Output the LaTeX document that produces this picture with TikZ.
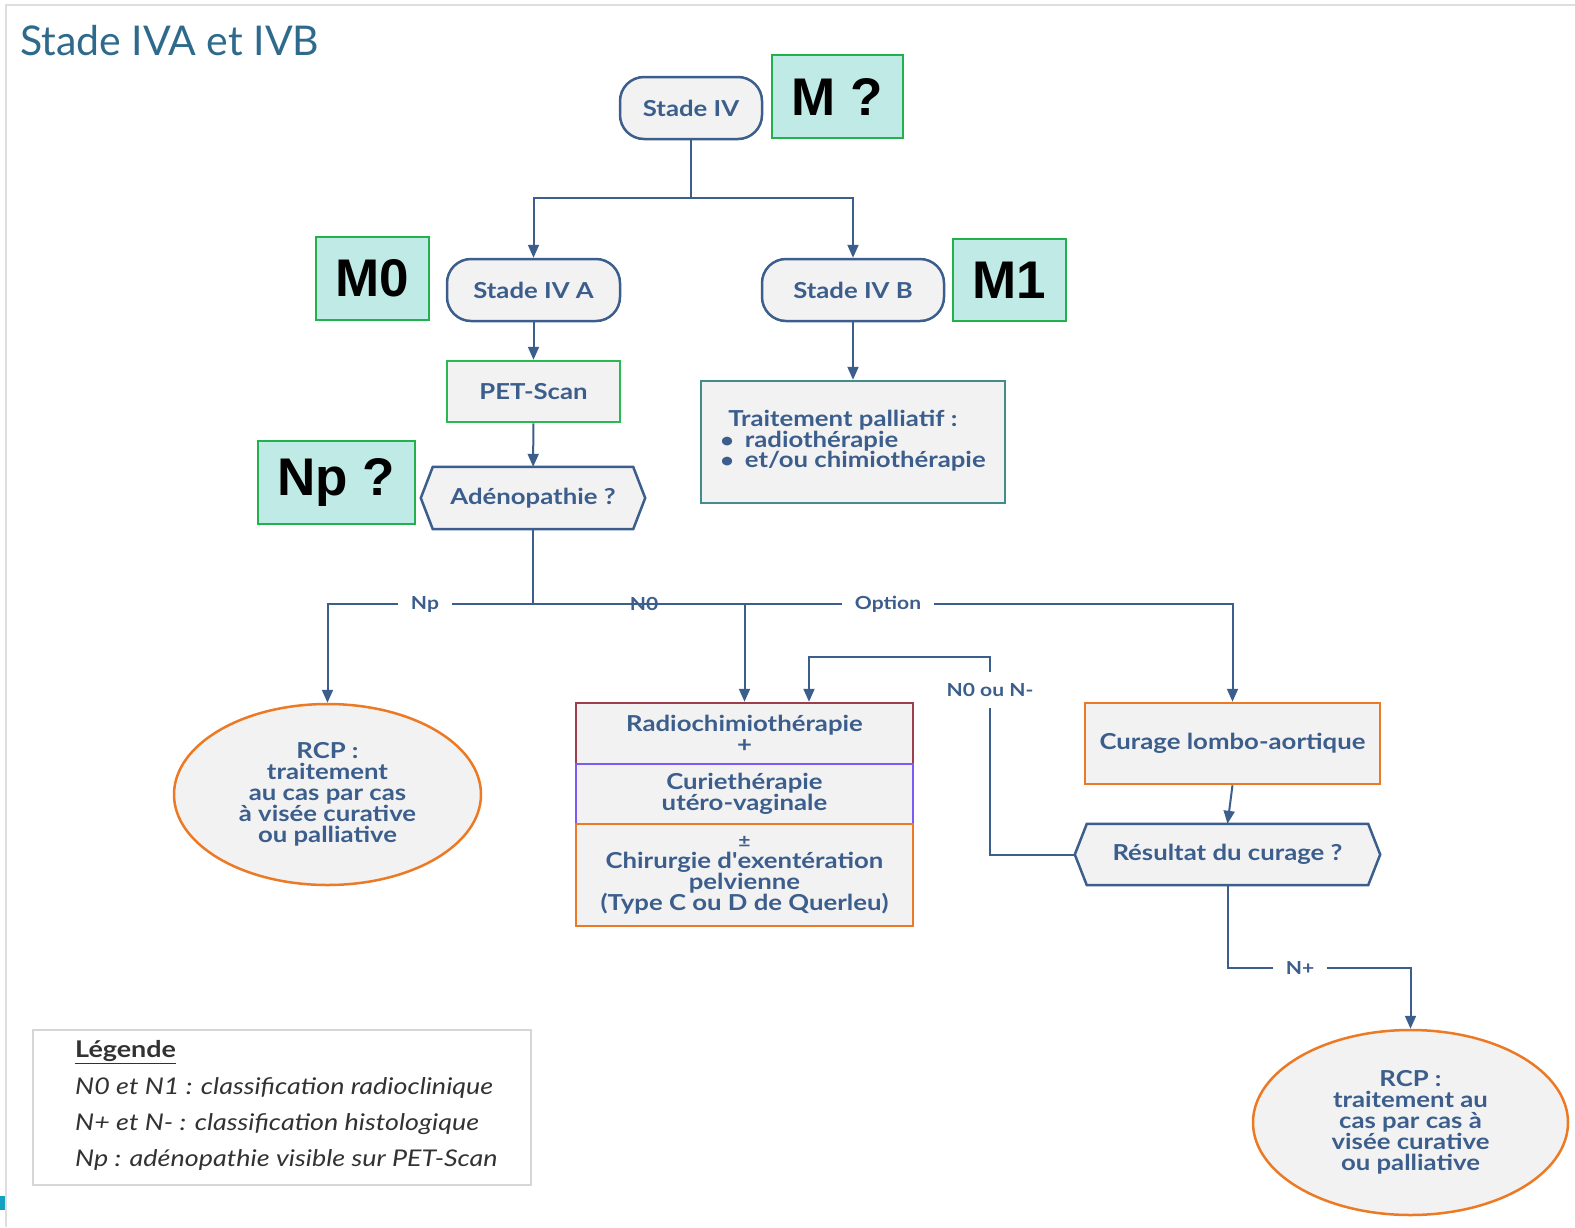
\documentclass[tikz,border=0pt]{standalone}
\usepackage{fontspec}
\setmainfont{Lato}[FakeStretch=1.17]
\newfontfamily\plainfont{Lato}
\newfontfamily\arialf{Liberation Sans}
\usetikzlibrary{arrows.meta,shapes.geometric,backgrounds}
\definecolor{lblue}{RGB}{60,94,140}
\definecolor{nfill}{RGB}{242,242,242}
\definecolor{mfill}{RGB}{191,234,229}
\definecolor{mgreen}{RGB}{34,177,76}
\definecolor{pgreen}{RGB}{40,185,80}
\definecolor{tealb}{RGB}{66,140,140}
\definecolor{rbrown}{RGB}{155,62,78}
\definecolor{rpurple}{RGB}{122,92,240}
\definecolor{orng}{RGB}{236,122,36}
\definecolor{titleblue}{RGB}{46,106,140}
\definecolor{framegray}{RGB}{222,222,222}
\definecolor{leggray}{RGB}{214,214,214}
\definecolor{legtext}{RGB}{50,50,50}
\definecolor{tealsq}{RGB}{20,160,190}
\begin{document}
\begin{tikzpicture}[x=1pt,y=-1pt,
  nodefont/.style={font=\bfseries\fontsize{22}{21}\selectfont, text=lblue, align=center},
  stadebox/.style={nodefont, draw=lblue, line width=2.5pt, fill=nfill, rounded corners=24pt, minimum height=62pt, inner sep=0pt},
  rectbox/.style={nodefont, line width=2.5pt, fill=nfill, inner sep=0pt},
  hexin/.style={nodefont, inner sep=0pt},
  hexline/.style={draw=lblue, line width=2.5pt, fill=nfill},
  mbox/.style={draw=mgreen, line width=2pt, fill=mfill, font=\arialf\bfseries\fontsize{53}{53}\selectfont, text=black, inner sep=0pt},
  rcp/.style={nodefont, ellipse, draw=orng, line width=2.5pt, fill=nfill, inner sep=0pt},
  conn/.style={draw=lblue, line width=2pt},
  arr/.style={conn, -{Triangle[width=11pt,length=13pt]}},
  lbl/.style={font=\bfseries\fontsize{18}{18}\selectfont, text=lblue, inner xsep=13pt, inner ysep=11pt},
  legtxt/.style={font=\itshape\fontsize{23}{23}\selectfont, text=legtext, anchor=west, inner sep=0pt}
]
\useasboundingbox (0,0) rectangle (1575,1227);
\draw[framegray, line width=2pt] (1575,5) -- (6,5) -- (6,1227);
\fill[tealsq] (0,1196) rectangle (5,1210);

\node[anchor=base west, font=\plainfont\fontsize{41}{41}\selectfont, text=titleblue, inner sep=0pt] (title) at (20,55) {Stade IVA et IVB};

% top part
\node[stadebox, minimum width=142pt] (s4) at (691,108) {Stade IV};
\node[mbox, minimum width=131pt, minimum height=83pt] (mq) at (837.5,96.5) {M ?};
\node[stadebox, minimum width=173pt] (s4a) at (533.5,290) {Stade IV A};
\node[mbox, minimum width=113pt, minimum height=83pt] (m0) at (372.5,278.5) {M0};
\node[stadebox, minimum width=182pt] (s4b) at (853,290) {Stade IV B};
\node[mbox, minimum width=113pt, minimum height=82pt] (m1) at (1009.5,280) {M1};
\node[rectbox, draw=pgreen, minimum width=173pt, minimum height=61pt] (pet) at (533.5,391.5) {PET-Scan};
\node[rectbox, draw=tealb, minimum width=304pt, minimum height=122pt] (pal) at (853,442)
  {\begin{tabular}{@{}l@{}}\hspace*{8pt}Traitement palliatif :\\[-2pt] {\fontsize{20}{20}\selectfont •}\hspace*{11pt}radiothérapie\\[-2pt] {\fontsize{20}{20}\selectfont •}\hspace*{11pt}et/ou chimiothérapie\end{tabular}};
\node[hexin, minimum width=200pt, minimum height=62pt] (aden) at (533,498) {Adénopathie ?};
\node[mbox, minimum width=157pt, minimum height=83pt] (npq) at (336.5,482.5) {Np ?};

% lower
\node[rcp, minimum width=307pt, minimum height=181pt] (rcp1) at (327.5,794.5)
  {RCP :\\traitement\\au cas par cas\\à visée curative\\ou palliative};
\node[rectbox, draw=rbrown, minimum width=337pt, minimum height=61pt] (radio) at (744.5,733.5) {Radiochimiothérapie\\+};
\node[rectbox, draw=rpurple, minimum width=337pt, minimum height=60pt] (curie) at (744.5,794) {Curiethérapie\\utéro-vaginale};
\node[rectbox, draw=orng, minimum width=337pt, minimum height=102pt] (chir) at (744.5,875)
  {{\fontsize{18}{14}\selectfont ±}\\Chirurgie d{\addfontfeatures{Ligatures=TeXOff}'}exentération\\pelvienne\\(Type C ou D de Querleu)};
\node[rectbox, draw=orng, minimum width=295pt, minimum height=81pt] (cur) at (1232.5,743.5) {Curage lombo-aortique};
\node[hexin, minimum width=281pt, minimum height=61pt] (res) at (1227.5,854.5) {Résultat du curage ?};
\node[rcp, minimum width=315pt, minimum height=185pt] (rcp2) at (1410.5,1122.5)
  {RCP :\\traitement au\\cas par cas à\\visée curative\\ou palliative};

\begin{scope}[on background layer]
\draw[hexline] (aden.north west) -- (aden.north east) -- ([xshift=12pt]aden.east) -- (aden.south east) -- (aden.south west) -- ([xshift=-12pt]aden.west) -- cycle;
\draw[hexline] (res.north west) -- (res.north east) -- ([xshift=12pt]res.east) -- (res.south east) -- (res.south west) -- ([xshift=-12pt]res.west) -- cycle;
\end{scope}

% connectors
\coordinate (b1) at (691,198);
\draw[conn] (s4.south) -- (b1);
\draw[arr] (b1) -| (s4a.north);
\draw[arr] (b1) -| (s4b.north);
\draw[arr] (s4a) -- (pet);
\draw[arr] (pet) -- (aden);
\draw[arr] (s4b) -- (pal);
\coordinate (b2) at (533,604);
\draw[conn] (aden.south) -- (b2);
\draw[arr] (b2) -| (rcp1.north);
\draw[arr] (b2) -| (radio.north);
\draw[arr] (b2) -| (cur.north);
\node[lbl, fill=white] (lnp) at (425,604) {Np};
\node[lbl] (ln0) at (644,604) {N0};
\node[lbl, fill=white] (lopt) at (888,604) {Option};

\draw[arr] (cur.south) -- (res.north);
\coordinate (restip) at ([xshift=-12pt]res.west);
\coordinate (b3) at (990,657);
\coordinate (b4) at (809,657);
\draw[arr] (restip) -| (b3) -- (b4) -- (b4 |- radio.north);
\node[lbl, fill=white] (ln0n) at (990,690) {N0 ou N-};
\coordinate (b5) at (1227.5,968);
\draw[arr] (res.south) -- (b5) -| (rcp2.north);
\node[lbl, fill=white] (lnplus) at (1300,968) {N+};

% legend
\node[draw=leggray, line width=1.5pt, minimum width=498pt, minimum height=155pt] (leg) at (282,1107.5) {};
\node[legtxt, font=\bfseries\fontsize{23}{23}\selectfont] (lg0) at (75,1052) {\underline{Légende}};
\node[legtxt] (lg1) at (75,1088) {N0 et N1 : classification radioclinique};
\node[legtxt] (lg2) at (75,1124) {N+ et N- : classification histologique};
\node[legtxt] (lg3) at (75,1160) {Np : adénopathie visible sur PET-Scan};
\end{tikzpicture}
\end{document}
